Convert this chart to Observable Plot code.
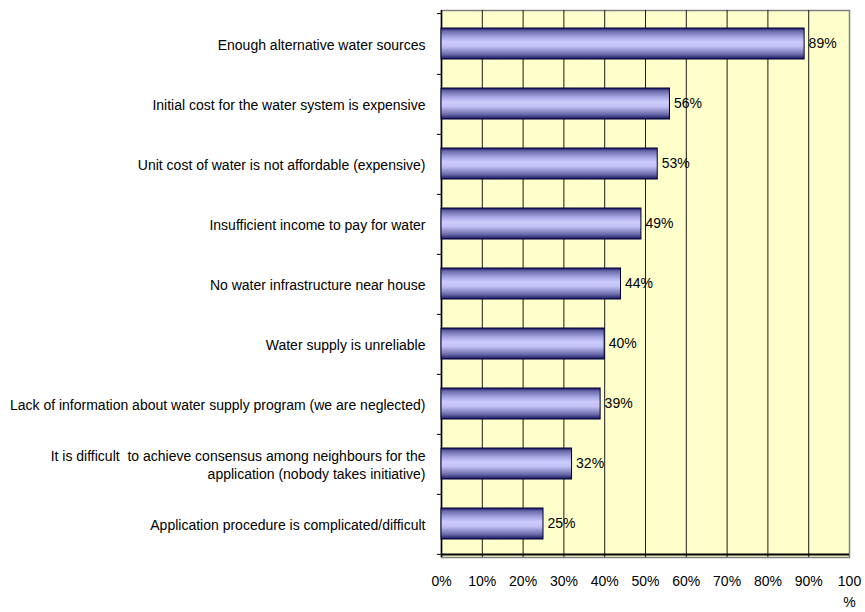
<!DOCTYPE html>
<html><head><meta charset="utf-8">
<script src="https://cdn.jsdelivr.net/npm/d3@7"></script>
<script src="https://cdn.jsdelivr.net/npm/@observablehq/plot@0.6"></script>
<style>body{margin:0;background:#fff;}</style>
</head><body><div id="chart"></div>
<script>
const categories = [
  "Enough alternative water sources",
  "Initial cost for the water system is expensive",
  "Unit cost of water is not affordable (expensive)",
  "Insufficient income to pay for water",
  "No water infrastructure near house",
  "Water supply is unreliable",
  "Lack of information about water supply program (we are neglected)",
  "It is difficult  to achieve consensus among neighbours for the\napplication (nobody takes initiative)",
  "Application procedure is complicated/difficult"
];
const values = [89, 56, 53, 49, 44, 40, 39, 32, 25];
const xTicks = [0, 10, 20, 30, 40, 50, 60, 70, 80, 90, 100];
const gridLines = [10, 20, 30, 40, 50, 60, 70, 80, 90];

const data = categories.map((c, i) => ({category: c, value: values[i]}));

const W = 865, H = 612, mT = 10, mB = 55, mL = 441, mR = 16;
const step = (H - mT - mB) / categories.length;
const font = "'Liberation Sans', Arial, sans-serif";

const chart = Plot.plot({
  width: W, height: H,
  marginTop: mT, marginBottom: mB, marginLeft: mL, marginRight: mR,
  style: {fontFamily: font, fontSize: "14px", color: "#000", background: "#fff"},
  x: {domain: [0, 100], label: null},
  y: {domain: categories, label: null, paddingInner: 0.49, paddingOuter: 0.245},
  marks: [
    Plot.frame({fill: "#FFFFCC", stroke: "#808080", strokeWidth: 1.5}),
    Plot.ruleX(gridLines, {stroke: "#1a1a1a", strokeWidth: 1}),
    Plot.ruleX([0], {stroke: "#000", strokeWidth: 1.5}),
    Plot.ruleY([categories[0]], {x1: -1, x2: 0, dy: -step / 2, stroke: "#000"}),
    Plot.ruleY(categories, {x1: -1, x2: 0, dy: step / 2, stroke: "#000"}),
    Plot.ruleY([categories[categories.length - 1]], {x1: 0, x2: 100, dy: step / 2, stroke: "#000", strokeWidth: 2}),
    Plot.barX(data, {x: "value", y: "category", fill: "url(#barGrad)", stroke: "#000033", strokeWidth: 1}),
    Plot.text(data, {x: "value", y: "category", text: d => d.value + "%", dx: 4, textAnchor: "start", fill: "#000", fontSize: 14}),
    Plot.axisX(xTicks, {tickSize: 0, tickPadding: 14, fontSize: 14, lineHeight: 1.5,
      tickFormat: d => d === 100 ? "100\n%" : d + "%"}),
    Plot.axisY({tickSize: 0, tickPadding: 16, fontSize: 14, lineHeight: 1.35})
  ]
});

const ns = "http://www.w3.org/2000/svg";
const defs = document.createElementNS(ns, "defs");
const grad = document.createElementNS(ns, "linearGradient");
grad.setAttribute("id", "barGrad");
grad.setAttribute("x1", "0"); grad.setAttribute("y1", "0");
grad.setAttribute("x2", "0"); grad.setAttribute("y2", "1");
[[0, "#141460"], [0.1, "#6a6aaa"], [0.3, "#a8a8e6"], [0.45, "#ccccff"], [0.6, "#c0c0f4"], [0.85, "#6a6aaa"], [1, "#141460"]]
  .forEach(([o, c]) => {
    const s = document.createElementNS(ns, "stop");
    s.setAttribute("offset", o); s.setAttribute("stop-color", c);
    grad.appendChild(s);
  });
defs.appendChild(grad);
chart.insertBefore(defs, chart.firstChild);
document.getElementById("chart").appendChild(chart);
</script>
</body></html>
